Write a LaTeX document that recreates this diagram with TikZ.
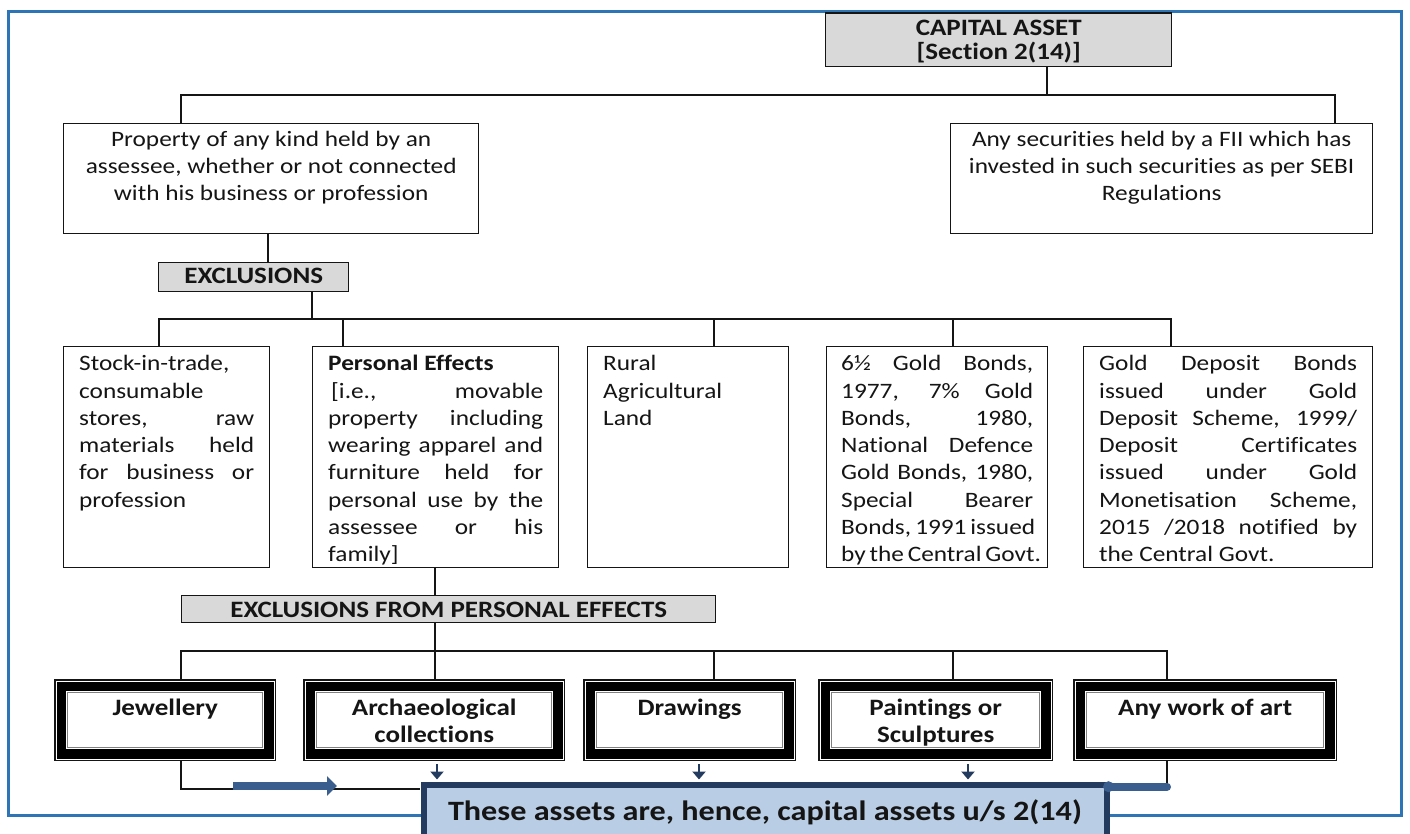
\documentclass[tikz,border=0pt]{standalone}
\usepackage{fontspec}
\setmainfont{Carlito}[FakeStretch=1.15,Ligatures=NoCommon]
\usetikzlibrary{arrows.meta,calc}

\definecolor{frameblue}{HTML}{2E75B6}
\definecolor{headgray}{HTML}{D9D9D9}
\definecolor{navy}{HTML}{223B5E}
\definecolor{resfill}{HTML}{B9CDE5}
\definecolor{steel}{HTML}{3A5F8E}
\definecolor{ink}{HTML}{151515}

% fonts used in the chart
\newcommand\bodyfont{\fontsize{22pt}{27.3pt}\selectfont}
\newcommand\headfont{\fontsize{23.5pt}{24pt}\selectfont\bfseries}
\newcommand\artfont{\fontsize{23.5pt}{27pt}\selectfont\bfseries}
% one justified / left-set line of a text block
\newcommand\jline[1]{\makebox[\linewidth][s]{#1}\\}
\newcommand\lline[1]{\makebox[\linewidth][l]{#1}\\}
\newcommand\lastline[1]{\makebox[\linewidth][l]{#1}}
\newcommand\fitline[1]{\makebox[\linewidth][s]{#1}}

\begin{document}
\begin{tikzpicture}[x=1pt,y=-1pt,
  conn/.style={draw=ink,line width=1.4pt},
  txtbox/.style={draw=ink,line width=1.4pt,fill=white,anchor=north west,inner ysep=0pt,inner xsep=15.5pt,text=ink},
  headbox/.style={draw=ink,line width=1.4pt,fill=headgray,anchor=north west,inner sep=0pt,text=ink},
  artbox/.style={anchor=north west,inner sep=0pt,text=ink},
  bigarrow/.style={draw=steel,line width=8pt,-{Triangle[length=10pt,width=19pt]}},
  smallarrow/.style={draw=navy,line width=2pt,-{Triangle[length=8pt,width=13pt]}}]

\useasboundingbox (0,0) rectangle (1410,834);
\fill[white] (0,0) rectangle (1410,834);

% page frame
\draw[frameblue,line width=3pt] (8.7,11.3) rectangle (1401.7,815.7);

% ---------- level 1 ----------
\node[headbox] (cap) at (825,12.5)
  {\parbox[c][53.5pt][t]{346pt}{\centering\headfont\rule{0pt}{22.5pt}CAPITAL ASSET\\{}[Section 2(14)]}};

\node[txtbox,inner xsep=0pt] (prop) at (63,123)
  {\parbox[c][110pt][t]{415pt}{\centering\bodyfont\rule{0pt}{22.5pt}Property of any kind held by an\\
   assessee, whether or not connected\\ with his business or profession}};

\node[txtbox,inner xsep=0pt] (secs) at (950,123)
  {\parbox[c][110pt][t]{422pt}{\centering\bodyfont\rule{0pt}{22.5pt}Any securities held by a FII which has\\
   invested in such securities as per SEBI\\ Regulations}};

\coordinate (busA) at (1047,95);
\coordinate (xA) at (181,0);
\coordinate (xB) at (1335,0);
\draw[conn] (cap.south -| busA) -- (busA) -| (prop.north -| xA);
\draw[conn] (busA) -| (secs.north -| xB);

% ---------- exclusions ----------
\node[headbox] (excl) at (158,262)
  {\parbox[c][29pt][t]{190pt}{\centering\headfont\rule{0pt}{21pt}EXCLUSIONS}};
\coordinate (xC) at (268,0);
\draw[conn] (prop.south -| xC) -- (excl.north -| xC);

\node[txtbox] (stock) at (63,346)
  {\parbox[c][221pt][t]{175pt}{\bodyfont\rule{0pt}{24pt}%
   \lline{Stock-in-trade,}\lline{consumable}\jline{stores, raw}\jline{materials held}%
   \jline{for business or}\lastline{profession}}};

\node[txtbox] (pers) at (312,346)
  {\parbox[c][221pt][t]{215pt}{\bodyfont\rule{0pt}{24pt}%
   \lline{\textbf{Personal Effects}}\jline{\hspace{3pt}[i.e., movable}\jline{property including}%
   \jline{wearing apparel and}\jline{furniture held for}\jline{personal use by the}%
   \jline{assessee or his}\lastline{family]}}};

\node[txtbox] (rural) at (587,346)
  {\parbox[c][221pt][t]{170pt}{\bodyfont\rule{0pt}{24pt}%
   \lline{Rural}\lline{Agricultural}\lastline{Land}}};

\node[txtbox,inner xsep=14.5pt] (gbond) at (826,346)
  {\parbox[c][221pt][t]{192pt}{\bodyfont\rule{0pt}{24pt}%
   \jline{6½ Gold Bonds,}\jline{1977, 7\% Gold}\jline{Bonds, 1980,}\jline{National Defence}%
   \jline{Gold Bonds, 1980,}\jline{Special Bearer}\jline{Bonds, 1991 issued}%
   \fitline{by the Central Govt.}}};

\node[txtbox] (gdep) at (1083,346)
  {\parbox[c][221pt][t]{258pt}{\bodyfont\rule{0pt}{24pt}%
   \jline{Gold Deposit Bonds}\jline{issued under Gold}\jline{Deposit Scheme, 1999/}%
   \jline{Deposit Certificates}\jline{issued under Gold}\jline{Monetisation Scheme,}%
   \jline{2015 /2018 notified by}\lastline{the Central Govt.}}};

\coordinate (busB) at (312,319);
\draw[conn] (excl.south -| busB) -- (busB);
\foreach \n/\x in {stock/159,pers/343,rural/714,gbond/953,gdep/1171}
  \draw[conn] (busB) -| (\n.north -| \x,0);

% ---------- exclusions from personal effects ----------
\node[headbox] (eff) at (181,595)
  {\parbox[c][27pt][t]{534pt}{\centering\headfont\rule{0pt}{21.5pt}EXCLUSIONS FROM PERSONAL EFFECTS}};
\coordinate (xD) at (435,0);
\draw[conn] (pers.south -| xD) -- (eff.north -| xD);

\node[artbox] (jew) at (54,679)
  {\parbox[c][82pt][t]{222pt}{\centering\artfont\rule{0pt}{36pt}Jewellery}};
\node[artbox] (arch) at (303,679)
  {\parbox[c][82pt][t]{262pt}{\centering\artfont\rule{0pt}{36pt}Archaeological\\ collections}};
\node[artbox] (drw) at (583,679)
  {\parbox[c][82pt][t]{213pt}{\centering\artfont\rule{0pt}{36pt}Drawings}};
\node[artbox] (paint) at (818,679)
  {\parbox[c][82pt][t]{235pt}{\centering\artfont\rule{0pt}{36pt}Paintings or\\ Sculptures}};
\node[artbox] (art) at (1073,679)
  {\parbox[c][82pt][t]{264pt}{\centering\artfont\rule{0pt}{36pt}Any work of art}};

% thick-thin frames of the five items
\foreach \n in {jew,arch,drw,paint,art}{
  \draw[ink,line width=1.5pt] ($(\n.north west)+(0.75,0.75)$) rectangle ($(\n.south east)+(-0.75,-0.75)$);
  \draw[black,line width=9.5pt] ($(\n.north west)+(7.5,7.5)$) rectangle ($(\n.south east)+(-7.5,-7.5)$);
  \draw[gray,line width=1.3pt] ($(\n.north west)+(13.6,13.6)$) rectangle ($(\n.south east)+(-13.6,-13.6)$);
}

\coordinate (busC) at (435,651);
\draw[conn] (eff.south -| busC) -- (busC);
\foreach \n/\x in {jew/181,arch/435,drw/714,paint/953,art/1167}
  \draw[conn] (busC) -| (\n.north -| \x,0);

% ---------- result ----------
\coordinate (yJ) at (0,789);
\coordinate (yW) at (0,786.7);
\draw[conn] (jew.south -| xA) |- (420,789);
\coordinate (xE) at (1167,0);
\draw[conn] (art.south -| xE) -- (xE |- yW);

\node[draw=navy,line width=6pt,fill=resfill,anchor=north west,inner sep=0pt,text=ink] (res) at (420.5,781.5)
  {\parbox[c][60pt][t]{683pt}{\centering\fontsize{28pt}{30pt}\selectfont\bfseries\rule{0pt}{36pt}These assets are, hence, capital assets u/s 2(14)}};

% decorative arrow along the left feed line
\coordinate (ba) at (233,786);
\coordinate (bb) at (337,786);
\draw[bigarrow] (ba) -- (bb);

% feed from the right
\draw[steel,line width=8pt,line cap=round] (res.north east |- yW) -- (xE |- yW);
\fill[steel] (res.north east |- yW) ++(-1,0) circle (5.5);

% small feed arrows
\foreach \n/\x in {arch/437,drw/699,paint/968}
  \draw[smallarrow] ($(\n.south -| \x,0)+(0,3)$) -- ($(res.north -| \x,0)+(0,-2)$);

\end{tikzpicture}
\end{document}
